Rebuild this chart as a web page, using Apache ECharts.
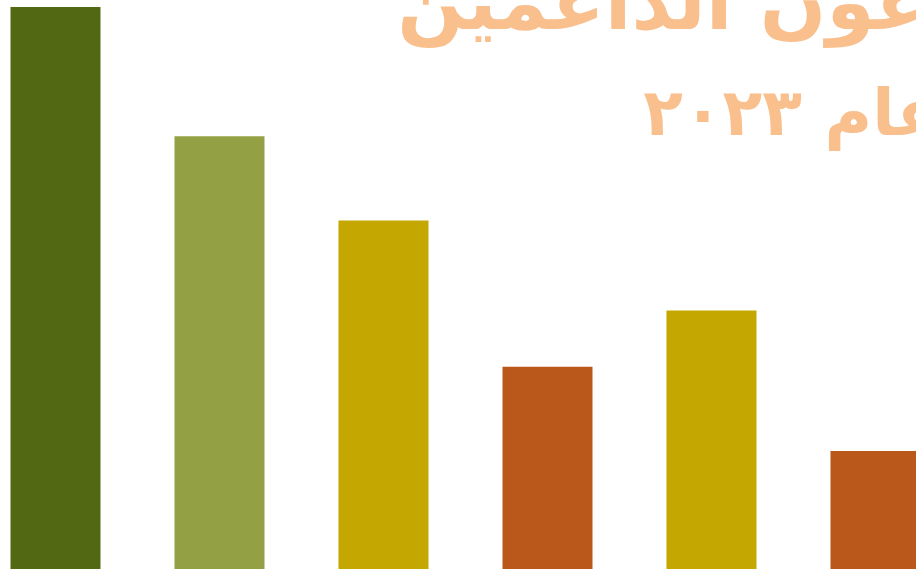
<!DOCTYPE html>
<html><head><meta charset="utf-8">
<script src="https://cdn.jsdelivr.net/npm/echarts@6/dist/echarts.min.js"></script>
<style>html,body{margin:0;padding:0;background:#fff}#c{width:916px;height:574px}</style>
</head><body><div id="c"></div>
<script>
const categories = ['١', '٢', '٣', '٤', '٥', '٦'];
const values = [100, 77, 62, 36, 46, 21];
const barColors = ['#536812', '#93A044', '#C4A700', '#B9581A', '#C4A700', '#B9581A'];
const titleText = 'المتبرعون الداعمين';
const subtitleText = 'عام ٢٠٢٣';

const chart = echarts.init(document.getElementById('c'), null, {renderer: 'canvas'});
chart.setOption({
  backgroundColor: '#ffffff',
  animation: false,
  grid: {left: 0, right: 0, top: 7, bottom: 5, containLabel: false},
  xAxis: {type: 'value', min: -0.3384, max: 5.2470, show: false, splitLine: {show: false}},
  yAxis: {type: 'value', min: 0, max: 100, show: false, splitLine: {show: false}},
  series: [{
    type: 'bar', barWidth: 90,
    data: values.map((v, i) => ({value: [i, v], name: categories[i], itemStyle: {color: barColors[i]}}))
  }],
  graphic: [
    {type: 'text', right: -233, top: -30, z: 10, style: {text: titleText, font: 'bold 78px "DejaVu Sans"', fill: '#F9C08E'}},
    {type: 'text', right: -25, top: 86, z: 10, style: {text: subtitleText, font: 'bold 65px "DejaVu Sans"', fill: '#F9C08E'}}
  ]
});
</script></body></html>
